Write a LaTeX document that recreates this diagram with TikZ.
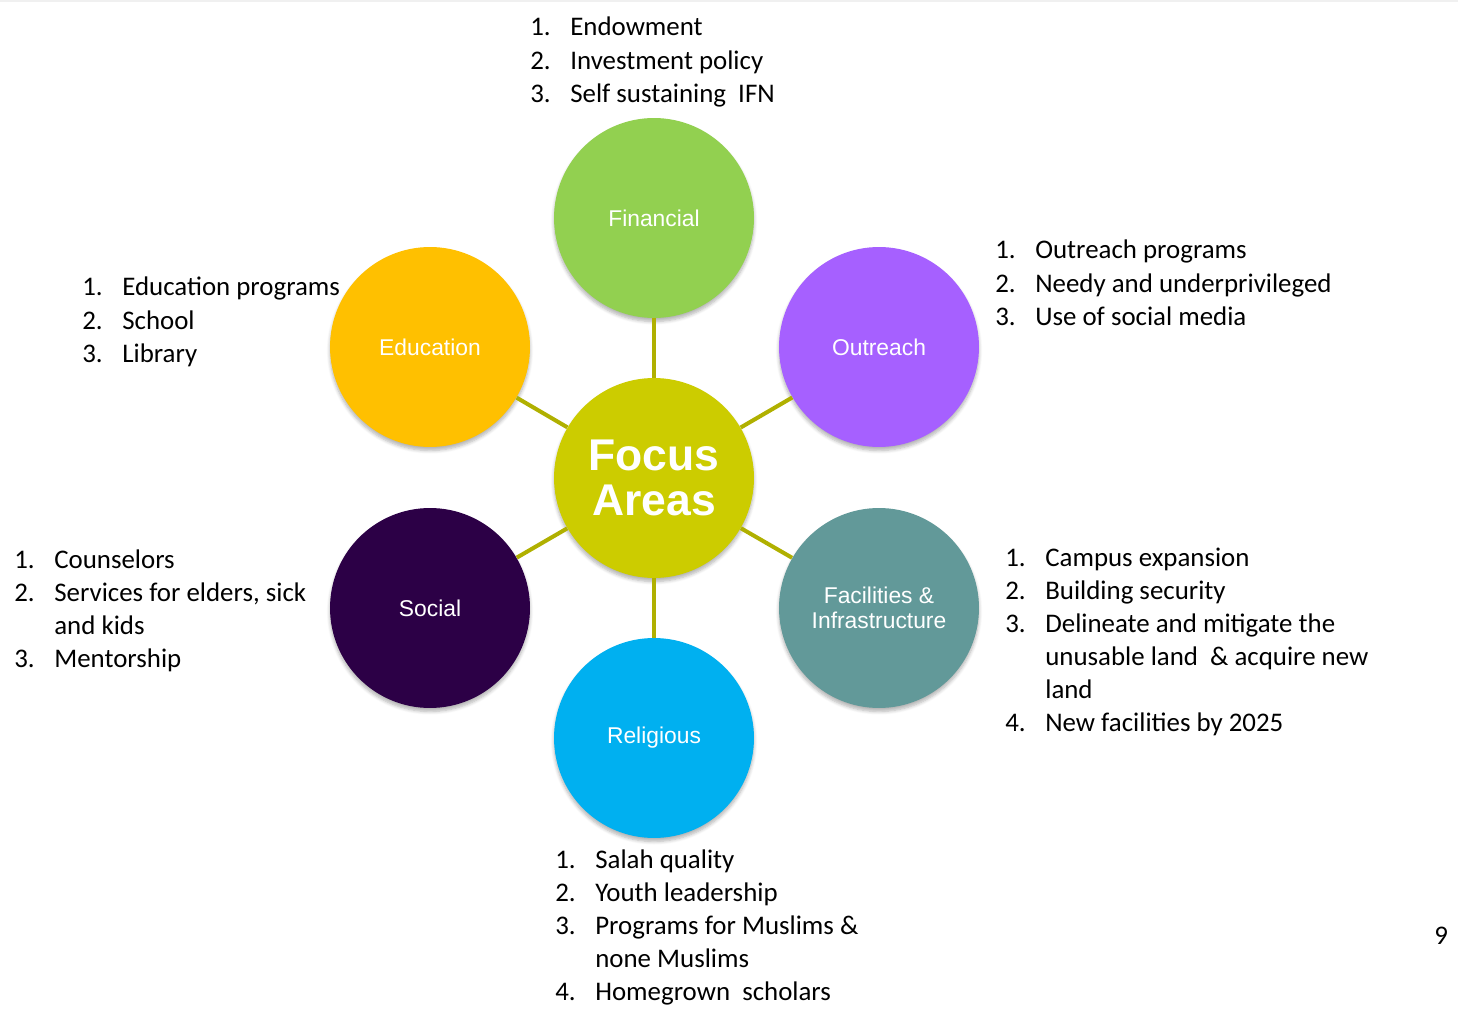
\documentclass[tikz,border=0pt]{standalone}
\usepackage{fontspec}
\setmainfont{Carlito}
\newfontfamily\arialfont{Liberation Sans}
\usetikzlibrary{positioning, shadows.blur}
\definecolor{fincolor}{HTML}{92D050}
\definecolor{outcolor}{HTML}{A660FF}
\definecolor{educolor}{HTML}{FFC000}
\definecolor{focuscolor}{HTML}{CCCC00}
\definecolor{soccolor}{HTML}{2C0046}
\definecolor{faccolor}{HTML}{629999}
\definecolor{relcolor}{HTML}{00B0F0}
\definecolor{linkcolor}{HTML}{B0B000}
\newcommand{\itemlist}[1]{\begin{tabular}[t]{@{}p{0.8cm}@{}l@{}}#1\end{tabular}}

\begin{document}
\begin{tikzpicture}[
    x=0.02cm, y=-0.02cm,
    area/.style = {circle, minimum size=4cm, inner sep=0pt, text=white, align=center,
        font=\arialfont\fontsize{13}{14}\selectfont,
        blur shadow={shadow xshift=0pt, shadow yshift=-2pt, shadow opacity=30, shadow blur steps=6}},
    hub/.style = {area, font=\arialfont\bfseries\fontsize{25.3}{26}\selectfont},
    items/.style = {anchor=base west, inner sep=0pt, font=\fontsize{15.3}{18.8}\selectfont},
    link/.style = {draw=linkcolor, line width=2.3pt}
]
    \useasboundingbox (0,0) rectangle (1458,1030);
    \fill [gray!12] (0,0) rectangle (1458,2);

    \node [hub, fill=focuscolor] (focus) at (654,478) {Focus\\Areas};
    \node [area, fill=fincolor] (fin) at (654,218) {Financial};
    \node [area, fill=outcolor] (out) at (879,347) {Outreach};
    \node [area, fill=educolor] (edu) at (430,347) {Education};
    \node [area, fill=soccolor] (soc) at (430,608) {Social};
    \node [area, fill=faccolor] (fac) at (879,608) {Facilities \&\\Infrastructure};
    \node [area, fill=relcolor] (rel) at (654,738) {Religious};

    \draw [link] (focus) -- (fin);
    \draw [link] (focus) -- (out);
    \draw [link] (focus) -- (edu);
    \draw [link] (focus) -- (soc);
    \draw [link] (focus) -- (fac);
    \draw [link] (focus) -- (rel);

    \node [items] (finlist) at (530,36) {\itemlist{1. & Endowment\\ 2. & Investment policy\\ 3. & Self sustaining \ IFN}};
    \node [items] (outlist) at (995,259) {\itemlist{1. & Outreach programs\\ 2. & Needy and underprivileged\\ 3. & Use of social media}};
    \node [items] (edulist) at (82,296) {\itemlist{1. & Education programs\\ 2. & School\\ 3. & Library}};
    \node [items] (soclist) at (14,568) {\itemlist{1. & Counselors\\ 2. & Services for elders, sick\\ & and kids\\ 3. & Mentorship}};
    \node [items] (faclist) at (1005,566) {\itemlist{1. & Campus expansion\\ 2. & Building security\\ 3. & Delineate and mitigate the\\ & unusable land \ \& acquire new\\ & land\\ 4. & New facilities by 2025}};
    \node [items] (rellist) at (555,868) {\itemlist{1. & Salah quality\\ 2. & Youth leadership\\ 3. & Programs for Muslims \&\\ & none Muslims\\ 4. & Homegrown \ scholars}};
    \node [items] (page) at (1434,944) {9};
\end{tikzpicture}
\end{document}
